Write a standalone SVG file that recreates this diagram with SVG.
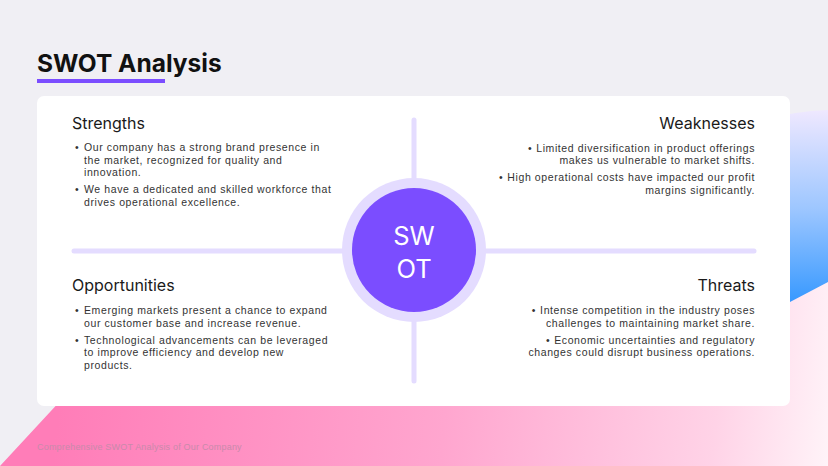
<svg xmlns="http://www.w3.org/2000/svg" width="828" height="466" viewBox="0 0 828 466">
<defs>
<linearGradient id="pink" x1="60" y1="390" x2="828" y2="466" gradientUnits="userSpaceOnUse">
<stop offset="0" stop-color="#ff7db8"/>
<stop offset="0.5" stop-color="#ffa6cf"/>
<stop offset="0.85" stop-color="#ffd3e7"/>
<stop offset="1" stop-color="#fff3f8"/>
</linearGradient>
<linearGradient id="blue" x1="0" y1="0" x2="0" y2="1">
<stop offset="0" stop-color="#efe8ff"/>
<stop offset="0.5" stop-color="#9cc6ff"/>
<stop offset="1" stop-color="#2f95ff"/>
</linearGradient>
<style>
.h{font-family:Inter,"Liberation Sans",sans-serif;font-size:16px;fill:#1a1a1a}
.b{font-family:"Liberation Sans",Arial,sans-serif;font-size:10.5px;fill:#333;letter-spacing:0.6px}
.r{text-anchor:end}
.ln{stroke:#e4dcff;stroke-width:5;stroke-linecap:round}
</style>
</defs>
<rect width="828" height="466" fill="#f0eff4"/>
<path d="M690,150 Q760,112 828,110 L828,310 L690,310 Z" fill="url(#blue)"/>
<polygon points="0,466 75,385 790,302 828,282 828,466" fill="url(#pink)"/>
<g id="title">
<text x="37" y="72" font-family="Inter,'Liberation Sans',sans-serif" font-size="24.5" font-weight="700" fill="#111">SWOT Analysis</text>
<rect x="37" y="79" width="128" height="4" fill="#7b4dff"/>
</g>
<rect id="card" x="37" y="96" width="753" height="310" rx="7" fill="#fff"/>
<g id="connectors">
<line class="ln" x1="414" y1="120" x2="414" y2="381"/>
<line class="ln" x1="74" y1="251" x2="754" y2="251"/>
</g>
<g id="center">
<circle cx="414" cy="250" r="72" fill="#e4dcff"/>
<circle cx="414" cy="250" r="62" fill="#7b4dff"/>
<text x="414" y="245" text-anchor="middle" font-family="Inter,'Liberation Sans',sans-serif" font-size="25.5" fill="#fff">SW</text>
<text x="414" y="278" text-anchor="middle" font-family="Inter,'Liberation Sans',sans-serif" font-size="25.5" fill="#fff">OT</text>
</g>
<g id="strengths">
<text class="h" x="72" y="129">Strengths</text>
<text class="b" x="75" y="151">•</text>
<text class="b" x="84" y="151">Our company has a strong brand presence in</text>
<text class="b" x="84" y="163.5">the market, recognized for quality and</text>
<text class="b" x="84" y="176">innovation.</text>
<text class="b" x="75" y="193">•</text>
<text class="b" x="84" y="193">We have a dedicated and skilled workforce that</text>
<text class="b" x="84" y="205.5">drives operational excellence.</text>
</g>
<g id="weaknesses">
<text class="h r" x="755" y="129">Weaknesses</text>
<text class="b r" x="755" y="152"><tspan>•</tspan><tspan dx="4">Limited diversification in product offerings</tspan></text>
<text class="b r" x="755" y="164">makes us vulnerable to market shifts.</text>
<text class="b r" x="755" y="181"><tspan>•</tspan><tspan dx="4">High operational costs have impacted our profit</tspan></text>
<text class="b r" x="755" y="193.5">margins significantly.</text>
</g>
<g id="opportunities">
<text class="h" x="72" y="291">Opportunities</text>
<text class="b" x="75" y="314">•</text>
<text class="b" x="84" y="314">Emerging markets present a chance to expand</text>
<text class="b" x="84" y="326.5">our customer base and increase revenue.</text>
<text class="b" x="75" y="343.5">•</text>
<text class="b" x="84" y="343.5">Technological advancements can be leveraged</text>
<text class="b" x="84" y="356">to improve efficiency and develop new</text>
<text class="b" x="84" y="368.5">products.</text>
</g>
<g id="threats">
<text class="h r" x="755" y="291">Threats</text>
<text class="b r" x="755" y="314"><tspan>•</tspan><tspan dx="4">Intense competition in the industry poses</tspan></text>
<text class="b r" x="755" y="326.5">challenges to maintaining market share.</text>
<text class="b r" x="755" y="343.5"><tspan>•</tspan><tspan dx="4">Economic uncertainties and regulatory</tspan></text>
<text class="b r" x="755" y="356">changes could disrupt business operations.</text>
</g>
<text id="footer" x="37" y="450" font-family="'Liberation Sans',Arial,sans-serif" font-size="9" letter-spacing="0.2" fill="#c98aab">Comprehensive SWOT Analysis of Our Company</text>
</svg>
